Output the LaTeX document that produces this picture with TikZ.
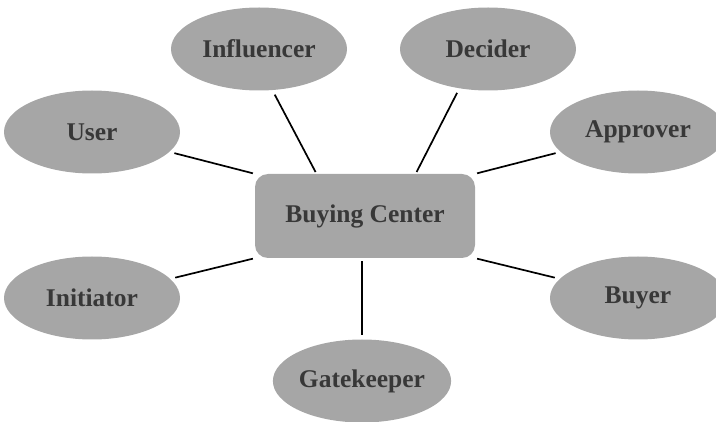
\documentclass[tikz,border=0pt]{standalone}
\usepackage{fontspec}
\setmainfont{Liberation Serif}
\usetikzlibrary{calc,shapes.geometric}
\definecolor{rolegray}{HTML}{A6A6A6}
\definecolor{rolefont}{HTML}{383838}
\begin{document}
\begin{tikzpicture}[x=1pt, y=-1pt,
  role/.style={ellipse, fill=rolegray, minimum width=176pt, minimum height=83pt,
    inner sep=0pt, text=rolefont, font=\fontsize{25.5}{29}\selectfont\bfseries},
  hub/.style={rectangle, rounded corners=13pt, fill=rolegray, minimum width=220pt,
    minimum height=84pt, text=rolefont, font=\fontsize{25.5}{29}\selectfont\bfseries},
  link/.style={line width=1.7pt, shorten <=5pt, shorten >=2pt}]

\useasboundingbox (0,0) rectangle (716,422);

\node (bc) at (365, 216) [hub] {Buying Center};

\node (user) at (92, 132) [role] {User};
\node (infl) at (259, 49) [role] {Influencer};
\node (dec) at (488, 49) [role] {Decider};
\node (appr) at (638, 132) [role] {Approver};

\node (init) at (92, 298) [role] {Initiator};
\node (buyer) at (638, 298) [role] {Buyer};
\node (gate) at (362, 381) [role] {Gatekeeper};

\coordinate (bcl) at ($(bc.north west)!0.28!(bc.north east)$);
\coordinate (bcr) at ($(bc.north west)!0.73!(bc.north east)$);

\draw[link] (user) -- (bc.north west);
\draw[link] (infl.288) -- (bcl);
\draw[link] (dec.234) -- (bcr);
\draw[link] (appr) -- (bc.north east);

\draw[link] (init) -- (bc.south west);
\draw[link] (buyer) -- (bc.south east);
\draw[link, shorten <=3pt, shorten >=4pt] (bc.south -| gate) -- (gate);

\end{tikzpicture}
\end{document}
